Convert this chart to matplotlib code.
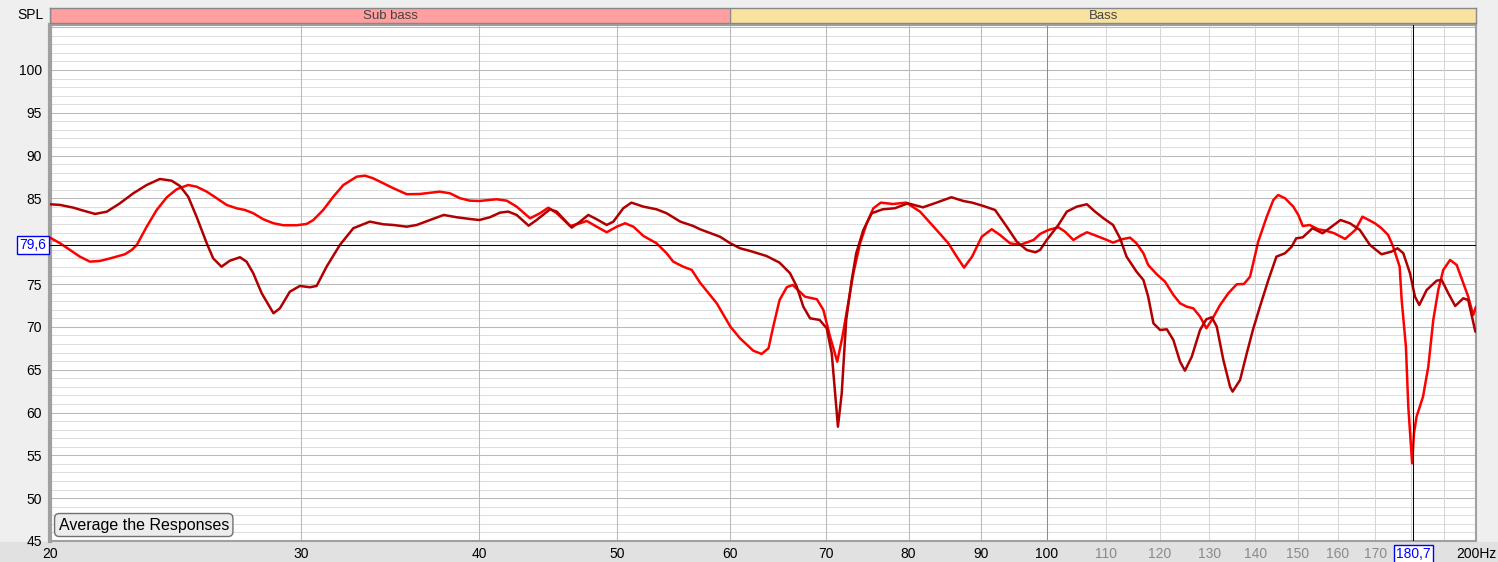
import matplotlib
matplotlib.use("Agg")
import matplotlib.pyplot as plt
from matplotlib.patches import Rectangle

# frequency response, dark red trace (Hz, dB SPL)
dark_f = [20.0, 20.33, 20.77, 21.11, 21.51, 21.92, 22.39, 22.88, 23.38, 23.88, 24.34, 24.67,
          25.0, 25.34, 25.76, 26.03, 26.38, 26.74, 27.18, 27.47, 27.77, 28.15, 28.69, 28.99,
          29.46, 29.94, 30.43, 30.76, 31.26, 31.94, 32.64, 33.52, 34.26, 34.82, 35.58, 36.16,
          36.94, 37.77, 38.57, 39.4, 40.0, 40.69, 41.36, 41.92, 42.49, 43.32, 43.88, 44.84,
          45.33, 46.44, 47.07, 47.7, 48.35, 49.14, 49.67, 50.47, 51.14, 52.14, 53.26, 54.13,
          55.34, 56.51, 57.13, 59.0, 60.0, 60.94, 61.93, 63.6, 64.96, 66.07, 66.79, 67.5,
          68.24, 69.3, 70.1, 70.67, 71.05, 71.38, 71.82, 72.34, 72.99, 73.52, 74.37, 75.39,
          76.72, 78.24, 79.92, 81.88, 83.7, 85.74, 87.4, 88.64, 90.27, 92.0, 93.75, 95.28,
          96.83, 98.18, 98.93, 100.0, 101.9, 103.3, 104.97, 106.7, 108.11, 109.6, 111.3,
          112.57, 113.76, 115.6, 116.89, 117.8, 118.8, 120.08, 121.4, 122.69, 124.02, 125.0,
          126.39, 128.09, 129.4, 130.54, 131.59, 133.0, 134.45, 135.0, 136.64, 138.13, 139.5,
          141.09, 143.03, 144.9, 146.93, 148.53, 149.6, 151.2, 153.6, 156.1, 158.4, 160.7,
          163.15, 165.8, 168.5, 171.7, 174.5, 176.2, 177.85, 179.78, 181.23, 182.5, 184.69,
          187.7, 189.2, 191.25, 193.4, 195.94, 197.5, 199.8]
dark_db = [84.32, 84.24, 83.92, 83.57, 83.19, 83.45, 84.43, 85.6, 86.57, 87.27, 87.07, 86.45,
           85.2, 82.87, 79.76, 78.0, 77.03, 77.73, 78.13, 77.62, 76.26, 73.93, 71.59, 72.17,
           74.11, 74.78, 74.63, 74.78, 77.03, 79.57, 81.52, 82.29, 81.98, 81.9, 81.7, 81.9,
           82.48, 83.07, 82.8, 82.6, 82.48, 82.8, 83.34, 83.46, 83.07, 81.82, 82.48, 83.73,
           83.46, 81.59, 82.29, 83.07, 82.57, 81.9, 82.29, 83.85, 84.51, 84.04, 83.73, 83.27,
           82.29, 81.78, 81.4, 80.53, 79.76, 79.18, 78.87, 78.28, 77.5, 76.26, 74.7, 72.36,
           71.0, 70.81, 69.84, 66.92, 62.25, 58.35, 62.25, 70.81, 75.48, 78.6, 81.32, 83.27,
           83.73, 83.85, 84.43, 83.96, 84.51, 85.14, 84.7, 84.51, 84.12, 83.65, 81.7, 79.95,
           78.98, 78.71, 78.98, 80.15, 81.9, 83.46, 84.04, 84.32, 83.46, 82.68, 81.9,
           80.34, 78.2, 76.45, 75.48, 73.53, 70.42, 69.64, 69.72, 68.47, 65.94, 64.89,
           66.52, 69.64, 70.89, 71.12, 70.03, 66.14, 63.02, 62.44, 63.8, 66.92, 69.64,
           72.36, 75.48, 78.2, 78.6, 79.37, 80.34, 80.46, 81.52, 80.93, 81.7, 82.48,
           82.1, 81.32, 79.57, 78.48, 78.79, 79.18, 78.6, 76.26, 73.53, 72.56, 74.31,
           75.4, 75.48, 73.93, 72.44, 73.34, 73.14, 69.44]

# frequency response, bright red trace
red_f = [20.0, 20.33, 20.66, 20.99, 21.33, 21.68, 22.04, 22.57, 22.82, 23.01, 23.38, 23.76,
         24.15, 24.54, 25.0, 25.34, 25.76, 26.18, 26.6, 27.03, 27.4, 27.77, 28.22, 28.69,
         29.15, 29.79, 30.27, 30.6, 31.09, 31.6, 32.12, 32.82, 33.26, 33.7, 34.26, 34.82,
         35.58, 36.35, 37.52, 38.15, 38.78, 39.4, 40.0, 41.12, 41.81, 42.49, 43.42, 44.12,
         44.72, 45.33, 46.32, 47.07, 47.58, 48.35, 49.14, 49.94, 50.62, 51.3, 52.14, 53.26,
         54.13, 54.71, 55.6, 56.37, 57.13, 58.69, 60.0, 60.94, 62.26, 63.1, 63.81, 64.3,
         64.96, 65.72, 66.34, 67.68, 69.0, 69.72, 70.48, 71.3, 71.9, 72.5, 73.18, 73.98,
         74.78, 75.58, 76.5, 78.0, 79.7, 81.5, 83.7, 85.31, 86.48, 87.5, 88.64, 90.04, 91.5,
         92.74, 94.25, 95.78, 97.9, 98.93, 100.27, 101.9, 103.0, 104.4, 105.5, 106.7, 108.4,
         110.2, 111.3, 112.88, 114.4, 115.6, 116.89, 117.8, 119.44, 121.05, 122.69, 124.02,
         125.36, 126.7, 128.09, 129.4, 130.54, 132.3, 134.08, 135.91, 137.5, 138.86, 140.7,
         142.66, 144.19, 145.3, 146.93, 148.9, 150.12, 151.2, 152.9, 155.0, 156.9, 159.1,
         161.9, 164.6, 166.5, 169.87, 171.7, 173.55, 174.96, 176.8, 177.38, 178.6, 179.29,
         180.4, 180.94, 181.7, 183.6, 185.17, 186.67, 188.18, 189.7, 191.8, 193.86, 195.94,
         197.5, 199.1, 200.0]
red_db = [80.42, 79.76, 78.98, 78.2, 77.62, 77.7, 78.0, 78.48, 78.98, 79.57, 81.7, 83.65,
          85.13, 86.07, 86.57, 86.37, 85.79, 85.02, 84.24, 83.85, 83.65, 83.27, 82.57, 82.1,
          81.87, 81.87, 82.02, 82.48, 83.65, 85.2, 86.57, 87.54, 87.66, 87.35, 86.77, 86.19,
          85.49, 85.52, 85.79, 85.6, 85.02, 84.74, 84.7, 84.9, 84.74, 84.04, 82.68, 83.27,
          83.92, 83.27, 81.78, 82.1, 82.37, 81.7, 81.05, 81.7, 82.1, 81.7, 80.62, 79.76,
          78.6, 77.62, 77.03, 76.65, 75.17, 72.76, 70.03, 68.67, 67.22, 66.84, 67.5, 70.03,
          73.14, 74.63, 74.9, 73.53, 73.22, 71.98, 68.86, 65.94, 68.86, 72.36, 76.26, 79.76,
          82.1, 83.85, 84.51, 84.35, 84.51, 83.46, 81.32, 79.76, 78.2, 76.92, 78.2, 80.53, 81.4,
          80.73, 79.76, 79.57, 80.15, 80.85, 81.32, 81.63, 81.12, 80.15, 80.62, 81.05, 80.62,
          80.15, 79.84, 80.23, 80.42, 79.76, 78.6, 77.23, 76.14, 75.28, 73.73, 72.76,
          72.36, 72.17, 71.2, 69.84, 70.81, 72.56, 73.93, 74.98, 75.01, 75.86, 79.95,
          82.87, 84.82, 85.4, 85.02, 84.04, 83.07, 81.78, 81.9, 81.4, 81.24, 80.93,
          80.27, 81.32, 82.87, 82.1, 81.52, 80.73, 79.37, 77.03, 73.14, 67.69, 60.68,
          54.07, 57.58, 59.52, 61.85, 65.35, 70.81, 74.31, 76.65, 77.81, 77.23, 75.09,
          73.53, 71.39, 72.36]

x_ticks = [20, 30, 40, 50, 60, 70, 80, 90, 100, 110, 120, 130, 140, 150, 160, 170, 200]
x_labels = ["20", "30", "40", "50", "60", "70", "80", "90", "100", "110", "120", "130",
            "140", "150", "160", "170", "200Hz"]
y_ticks = [45, 50, 55, 60, 65, 70, 75, 85, 90, 95, 100]
bands = [("Sub bass", 20, 60, "#ff9f9f"), ("Bass", 60, 200, "#f9e1a0")]
cursor_f, cursor_db = 180.7, 79.6

W, H = 1498, 562
plt.rcParams["font.family"] = ["Liberation Sans", "DejaVu Sans"]
fig = plt.figure(figsize=(W / 100, H / 100), dpi=100, facecolor="#efefef")
fig.patches.append(Rectangle((0, 0), 1, 20 / H, transform=fig.transFigure,
                             color="#e1e1e1", zorder=-1))

ax = fig.add_axes([50 / W, 21 / H, 1426 / W, 516 / H])
ax.set_xscale("log")
ax.set_xlim(20, 200)
ax.set_ylim(45, 105.25)
ax.set_facecolor("white")

# grid, 1 px lines
GW = 0.75
for v in range(46, 106):
    major = v % 5 == 0
    ax.axhline(v, color="#b9b9b9" if major else "#dedede", lw=GW, zorder=1)
for f in range(30, 100, 10):
    ax.axvline(f, color="#b9b9b9", lw=GW, zorder=1)
ax.axvline(100, color="#8c8c8c", lw=GW, zorder=1)
for f in range(110, 200, 10):
    ax.axvline(f, color="#d6d6d6", lw=GW, zorder=1)

ax.plot(red_f, red_db, color="#ff0000", lw=1.8, zorder=3, solid_joinstyle="round",
        solid_capstyle="round")
ax.plot(dark_f, dark_db, color="#b00000", lw=1.8, zorder=4, solid_joinstyle="round",
        solid_capstyle="round")

# cursor
ax.axhline(cursor_db, color="black", lw=GW, zorder=5)
ax.axvline(cursor_f, color="black", lw=GW, zorder=5)

ax.set_xticks(x_ticks)
ax.set_xticklabels(x_labels)
ax.xaxis.set_minor_locator(matplotlib.ticker.NullLocator())
ax.set_yticks(y_ticks)
ax.set_yticklabels([str(v) for v in y_ticks])
ax.tick_params(length=0, labelsize=10)
ax.tick_params(axis="x", pad=4)
ax.tick_params(axis="y", pad=6)
for lab, f in zip(ax.get_xticklabels(), x_ticks):
    if 100 < f < 200:
        lab.set_color("#8a8a8a")
for s in ax.spines.values():
    s.set_color("#a0a0a0")
    s.set_linewidth(1.5)
ax.spines["left"].set_linewidth(3)

box = dict(boxstyle="square,pad=0.15", fc="white", ec="#0000ff", lw=1)
ax.text(-0.0025, cursor_db, "79,6", transform=ax.get_yaxis_transform(), ha="right",
        va="center", color="#0000ff", fontsize=10, bbox=box, zorder=6)
ax.text(cursor_f, -0.012, "180,7", transform=ax.get_xaxis_transform(), ha="center",
        va="top", color="#0000ff", fontsize=10, bbox=box, zorder=6, clip_on=False)

ax.text(0.006, 0.031, "Average the Responses", transform=ax.transAxes, ha="left",
        va="center", fontsize=11.5,
        bbox=dict(boxstyle="round,pad=0.25,rounding_size=0.3", fc="#ececec", ec="#707070", lw=1),
        zorder=6)

fig.text(44 / W, 1 - 15 / H, "SPL", ha="right", va="center", fontsize=10)

# band strip
bx = fig.add_axes([50 / W, (H - 23) / H, 1426 / W, 15 / H])
bx.set_xscale("log")
bx.set_xlim(20, 200)
bx.set_ylim(0, 1)
for name, lo, hi, col in bands:
    bx.axvspan(lo, hi, color=col, zorder=1)
    bx.axvline(lo, color="#888888", lw=1, zorder=2)
    bx.text((lo * hi) ** 0.5, 0.45, name, ha="center", va="center", fontsize=9.5,
            color="#444444")
bx.set_xticks([])
bx.set_yticks([])
bx.xaxis.set_minor_locator(matplotlib.ticker.NullLocator())
for s in bx.spines.values():
    s.set_color("#888888")
    s.set_linewidth(1)

fig.savefig("out.png", dpi=100, facecolor=fig.get_facecolor())
